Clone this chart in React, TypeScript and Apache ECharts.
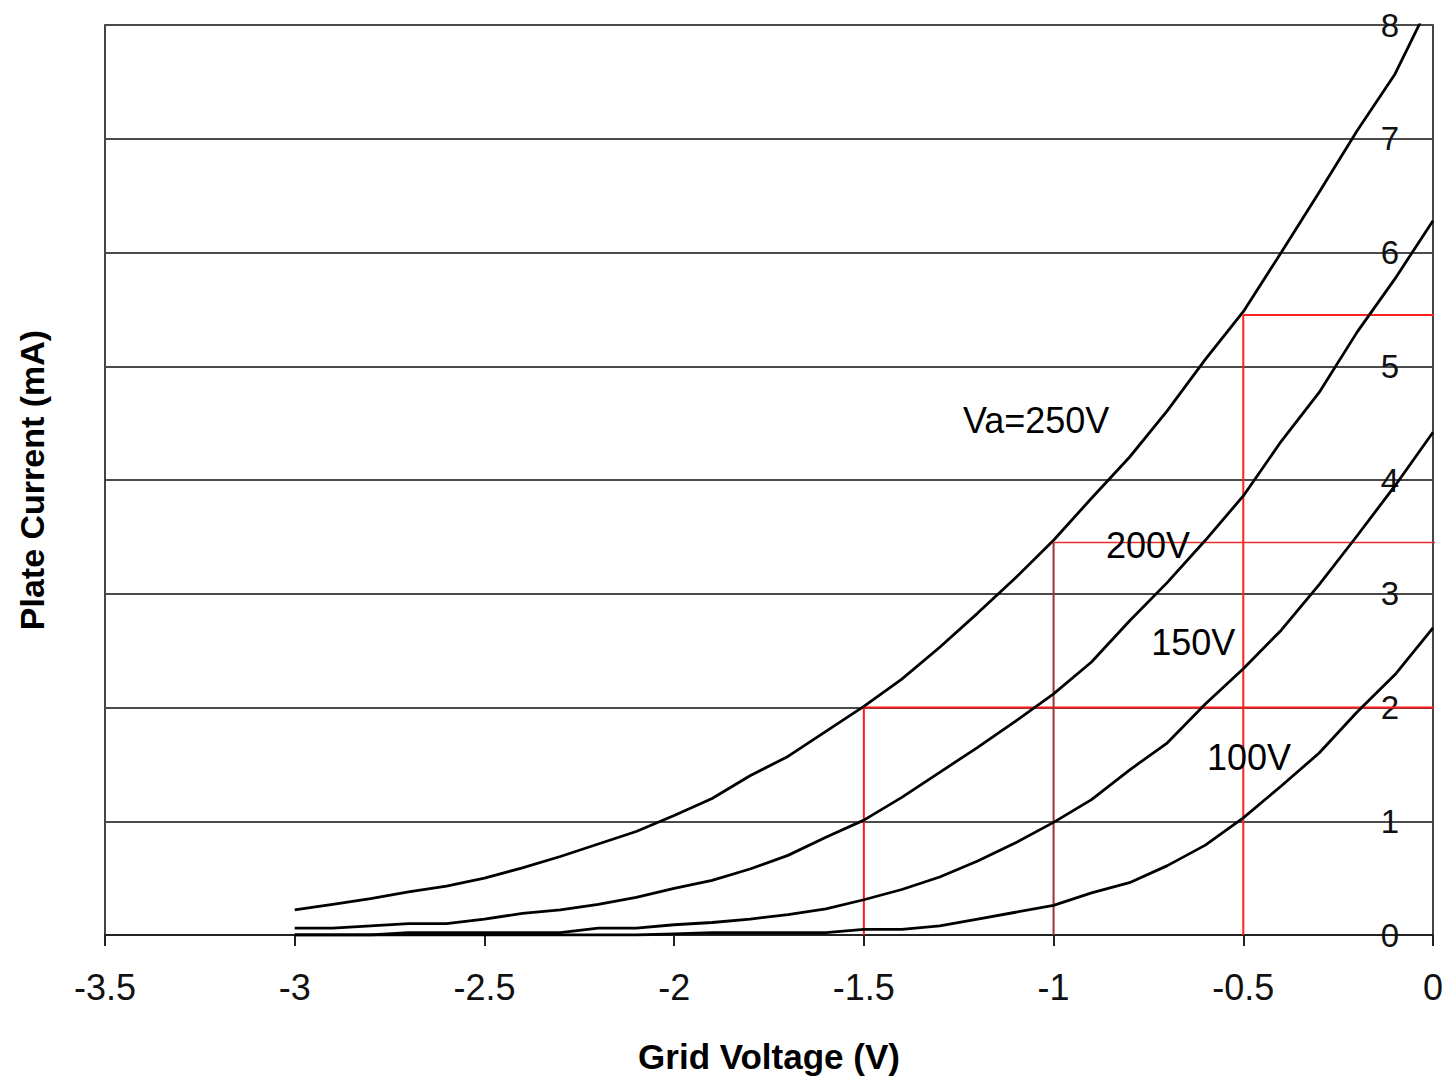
import React, { useEffect, useRef } from "react";
import * as echarts from "echarts";

const gridVoltage = [
  -3.0, -2.9, -2.8, -2.7, -2.6, -2.5, -2.4, -2.3, -2.2, -2.1,
  -2.0, -1.9, -1.8, -1.7, -1.6, -1.5, -1.4, -1.3, -1.2, -1.1,
  -1.0, -0.9, -0.8, -0.7, -0.6, -0.5, -0.4, -0.3, -0.2, -0.1, 0.0,
];

const va250 = [
  0.22, 0.27, 0.32, 0.38, 0.43, 0.5, 0.59, 0.69, 0.8, 0.91,
  1.05, 1.2, 1.4, 1.57, 1.79, 2.01, 2.25, 2.53, 2.83, 3.14,
  3.47, 3.84, 4.2, 4.61, 5.06, 5.48, 6.0, 6.53, 7.07, 7.57, 8.25,
];

const va200 = [
  0.06, 0.06, 0.08, 0.1, 0.1, 0.14, 0.19, 0.22, 0.27, 0.33,
  0.41, 0.48, 0.58, 0.7, 0.86, 1.01, 1.21, 1.43, 1.65, 1.88,
  2.12, 2.4, 2.76, 3.1, 3.47, 3.86, 4.34, 4.77, 5.3, 5.77, 6.28,
];

const va150 = [
  0.0, 0.0, 0.0, 0.02, 0.02, 0.02, 0.02, 0.02, 0.06, 0.06,
  0.09, 0.11, 0.14, 0.18, 0.23, 0.31, 0.4, 0.51, 0.65, 0.81,
  0.99, 1.19, 1.45, 1.69, 2.03, 2.34, 2.68, 3.08, 3.51, 3.95, 4.42,
];

const va100 = [
  0.0, 0.0, 0.0, 0.0, 0.0, 0.0, 0.0, 0.0, 0.0, 0.0,
  0.01, 0.02, 0.02, 0.02, 0.02, 0.05, 0.05, 0.08, 0.14, 0.2,
  0.26, 0.37, 0.46, 0.61, 0.79, 1.03, 1.31, 1.6, 1.96, 2.29, 2.7,
];

const curveNames = ["Va=250V", "200V", "150V", "100V"];
const curveValues = [va250, va200, va150, va100];

// annotation labels (data coordinates)
const labelText = ["Va=250V", "200V", "150V", "100V"];
const labelX = [-1.046, -0.751, -0.632, -0.485];
const labelY = [4.52, 3.42, 2.57, 1.56];

// operating-point guides
const guideX = [-1.5, -1.0, -0.5];
const guideY = [2.0, 3.45, 5.45];
const guideVColor = ["#ff1a1a", "#a03030", "#ff2020"];
const guideHColor = ["#ff1a1a", "#e83030", "#ff2020"];
const guideEndX = 0.02;

const FONT = "'Liberation Sans', Arial, Helvetica, sans-serif";

export default function App() {
  const ref = useRef<HTMLDivElement>(null);

  useEffect(() => {
    if (!ref.current) return;
    const chart = echarts.init(ref.current, null, { renderer: "svg" });

    const curveSeries = curveValues.map((vals, i) => ({
      name: curveNames[i],
      type: "line",
      data: gridVoltage.map((v, j) => [v, vals[j]]),
      symbol: "none",
      smooth: false,
      lineStyle: { color: "#000", width: 2.8 },
      z: 5,
    }));

    const guideSeries: any[] = [];
    guideX.forEach((gx, i) => {
      guideSeries.push({
        type: "line",
        data: [
          [gx, 0],
          [gx, guideY[i]],
        ],
        symbol: "none",
        lineStyle: { color: guideVColor[i], width: 2 },
        z: 3,
        silent: true,
      });
      guideSeries.push({
        type: "line",
        data: [
          [gx, guideY[i]],
          [guideEndX, guideY[i]],
        ],
        symbol: "none",
        clip: false,
        lineStyle: { color: guideHColor[i], width: i === 1 ? 1.5 : 2 },
        z: 3,
        silent: true,
      });
    });

    const labelSeries = {
      type: "scatter",
      data: labelText.map((t, i) => [labelX[i], labelY[i], t]),
      symbolSize: 0,
      itemStyle: { color: "#000", opacity: 1 },
      label: {
        show: true,
        position: "inside",
        formatter: (p: any) => p.data[2],
        fontFamily: FONT,
        fontSize: 36,
        color: "#000",
        opacity: 1,
        textBorderWidth: 0,
      },
      z: 10,
      silent: true,
    };

    chart.setOption({
      animation: false,
      backgroundColor: "#fff",
      grid: {
        left: 105,
        right: 14,
        top: 25,
        bottom: 147,
        containLabel: false,
        show: false,
      },
      xAxis: {
        type: "value",
        min: -3.5,
        max: 0,
        interval: 0.5,
        name: "Grid Voltage (V)",
        nameLocation: "middle",
        nameGap: 104,
        nameTextStyle: {
          fontFamily: FONT,
          fontSize: 35,
          fontWeight: "bold",
          color: "#000",
        },
        axisLine: { show: true, lineStyle: { color: "#222", width: 2 } },
        axisTick: { show: true, length: 11, lineStyle: { color: "#222", width: 2 } },
        axisLabel: {
          fontFamily: FONT,
          fontSize: 36,
          color: "#111",
          margin: 34,
        },
        splitLine: { show: false },
      },
      yAxis: [
        {
          type: "value",
          position: "right",
          min: 0,
          max: 8,
          interval: 1,
          axisLine: { show: true, onZero: false, lineStyle: { color: "#444", width: 2 } },
          axisTick: { show: false },
          axisLabel: {
            inside: true,
            margin: 34,
            fontFamily: FONT,
            fontSize: 33,
            color: "#111",
          },
          splitLine: { show: true, lineStyle: { color: "#4a4a4a", width: 2 } },
        },
        {
          type: "value",
          position: "left",
          min: 0,
          max: 8,
          interval: 1,
          name: "Plate Current (mA)",
          nameLocation: "middle",
          nameGap: 56,
          nameTextStyle: {
            fontFamily: FONT,
            fontSize: 34,
            fontWeight: "bold",
            color: "#000",
          },
          axisLine: { show: true, onZero: false, lineStyle: { color: "#444", width: 2 } },
          axisTick: { show: false },
          axisLabel: { show: false },
          splitLine: { show: false },
        },
      ],
      series: [...guideSeries, ...curveSeries, labelSeries],
    });

    return () => chart.dispose();
  }, []);

  return (
    <div
      ref={ref}
      style={{
        position: "fixed",
        left: 0,
        top: 0,
        width: 1447,
        height: 1082,
        background: "#fff",
      }}
    />
  );
}
